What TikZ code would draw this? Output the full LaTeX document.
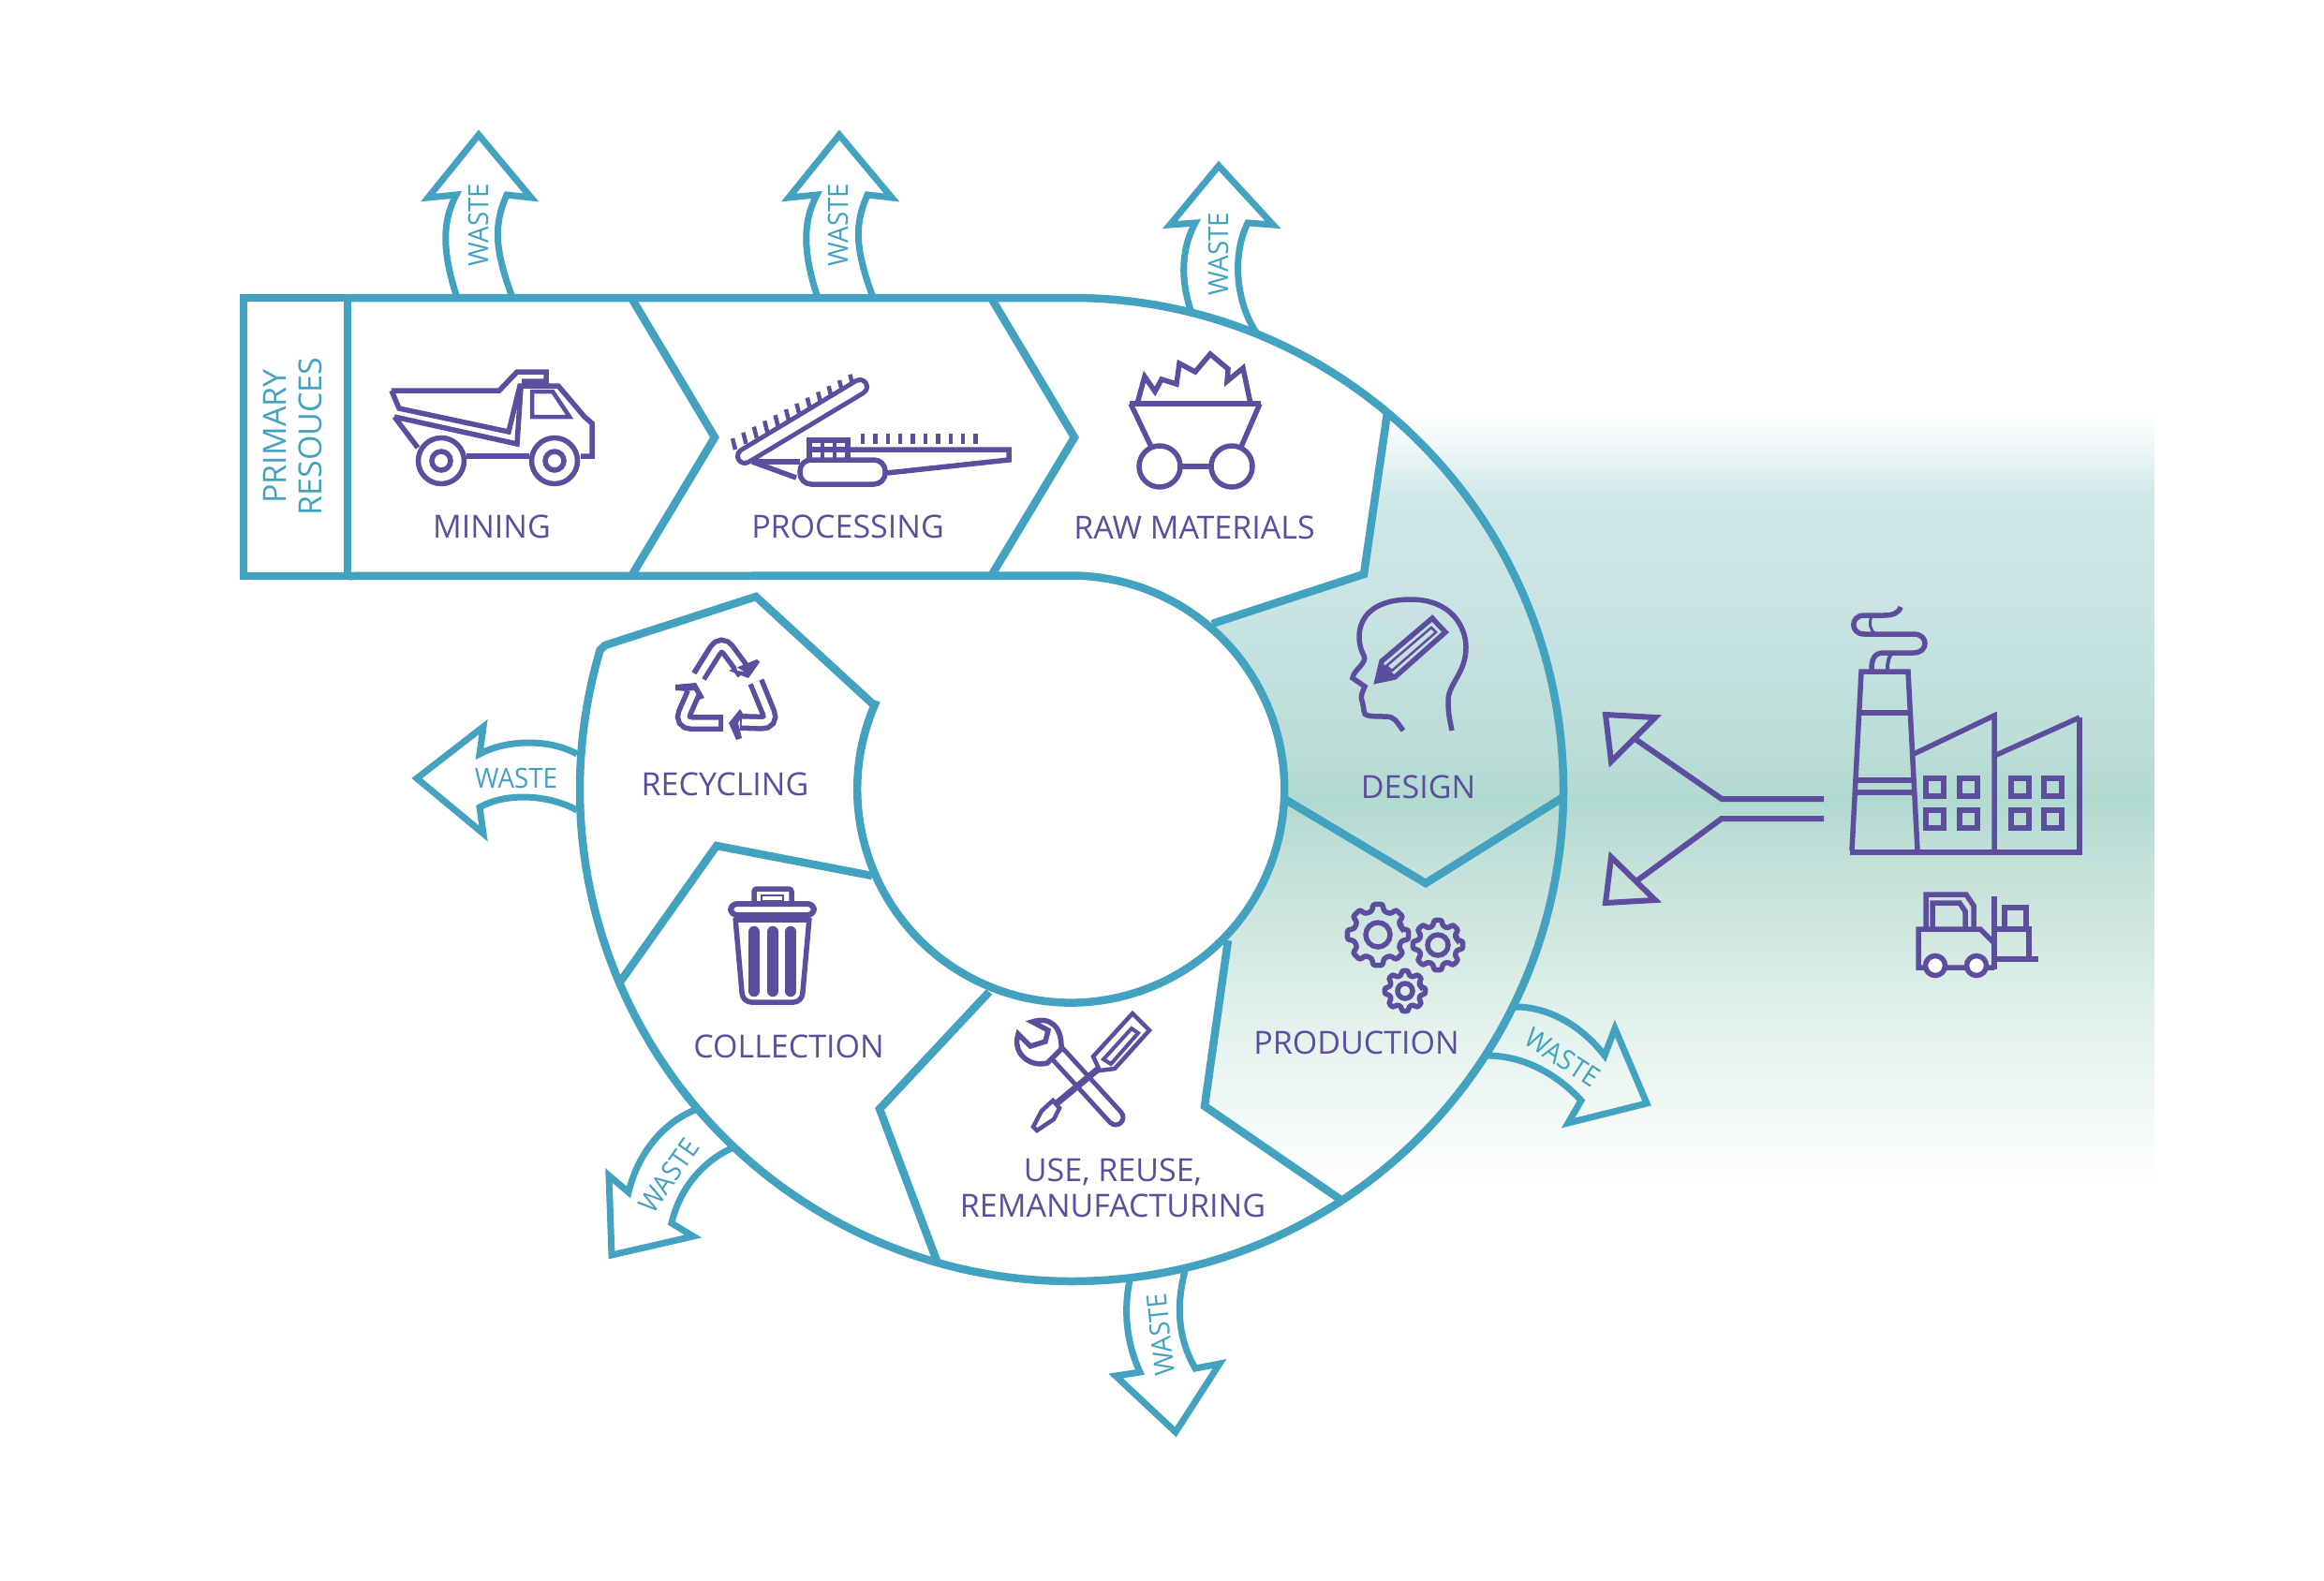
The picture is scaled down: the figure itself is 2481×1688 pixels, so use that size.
\documentclass[tikz,border=0pt]{standalone}
\usepackage{fontspec}
\setmainfont{Open Sans}
\newfontfamily\wastefont[FakeStretch=0.94]{Open Sans}
\definecolor{ringc}{HTML}{43A2BF}
\definecolor{iconc}{HTML}{5C4D9E}
\definecolor{g0}{HTML}{FFFFFF}
\definecolor{g1}{HTML}{F2F9F7}
\definecolor{g2}{HTML}{E0F0EB}
\definecolor{g3}{HTML}{D0E7E0}
\definecolor{g3b}{HTML}{C3E0D9}
\definecolor{g4}{HTML}{B1DAD0}
\definecolor{g5}{HTML}{BCDDD8}
\definecolor{g6}{HTML}{CBE5E5}
\definecolor{g7}{HTML}{CEE7E7}
\definecolor{g8}{HTML}{EAF5F5}
\pgfdeclareverticalshading{bgshadeb}{100bp}{
 color(0bp)=(g0);
 color(25bp)=(g0);
 color(29.5bp)=(g1);
 color(36.5bp)=(g2);
 color(41.5bp)=(g3);
 color(46bp)=(g3b);
 color(50bp)=(g4);
 color(53.5bp)=(g5);
 color(64.5bp)=(g6);
 color(69.5bp)=(g7);
 color(72.5bp)=(g8);
 color(75bp)=(g0);
 color(100bp)=(g0)}
\newcommand{\cogwheel}[5]{%
 \draw[iconl,rounded corners=2.5pt] ({#1+#4*cos(-14)},{#2+#4*sin(-14)})
  \foreach \a in {0,45,...,315} {
   -- ({#1+#4*cos(\a-14)},{#2+#4*sin(\a-14)})
   -- ({#1+#3*cos(\a-9)},{#2+#3*sin(\a-9)})
   -- ({#1+#3*cos(\a+9)},{#2+#3*sin(\a+9)})
   -- ({#1+#4*cos(\a+14)},{#2+#4*sin(\a+14)})
  } -- cycle;
 \draw[iconl] (#1,#2) circle[radius=#5];
}
\tikzset{
 x=1pt,y=-1pt,
 ring/.style={draw=ringc,line width=8.5pt,miter limit=10},
 wastearrow/.style={draw=ringc,line width=7pt,miter limit=10,line join=miter},
 iconl/.style={draw=iconc,line width=5.5pt,line join=miter},
 lab/.style={text=iconc,inner sep=0pt,font=\fontsize{34}{38}\selectfont,align=center},
 wlab/.style={text=ringc,inner sep=0pt,font=\wastefont\fontsize{29.5}{32}\selectfont},
}
\begin{document}
\begin{tikzpicture}
\useasboundingbox (0,0) rectangle (2481,1688);
% gradient backdrop
\shade[shading=bgshadeb] (1144,443) rectangle (2300,1266);
% white covers
\fill[white] (1058,318) -- (1144,318) arc[start angle=-90,end angle=-50,radius=525]
  -- (1456,613) -- (1294,666) arc[start angle=-49.7,end angle=-90,radius=229] -- (1058,614) -- cycle;
\fill[white] (1144,843) circle[radius=229];
\fill[white] (1311,1004) -- (1286,1181) -- (1430,1280) -- (1144,1400) -- (1144,1000) -- cycle;
% main ring
\draw[ring] (260,318) rectangle (371,615);
\draw[ring] (371,318) -- (1144,318) arc[start angle=-90,end angle=196.5,radius=525] -- (646,689) -- (807,637) -- (931,751) -- (934,752) arc[start angle=203.4,end angle=-90,radius=228] -- (371,615);
\draw[ring] (674,318) -- (763,467) -- (674,615);
\draw[ring] (1058,318) -- (1147,467) -- (1058,615);
\draw[ring] (1481,441) -- (1456,613) -- (1294,666);
\draw[ring] (1373,854) -- (1522,943) -- (1669,851);
\draw[ring] (1311,1004) -- (1286,1181) -- (1430,1280);
\draw[ring] (1056,1059) -- (939,1184) -- (1000,1346);
\draw[ring] (663,1047) -- (765,903) -- (931,935);
% waste arrows
\draw[wastearrow] (487,315) .. controls (471,265) and (473,235) .. (487,208) -- (457,211) -- (511,144) -- (567,211) -- (541,208) .. controls (527,240) and (528,265) .. (546,315);
\draw[wastearrow] (872,315) .. controls (856,265) and (858,235) .. (872,208) -- (842,211) -- (896,144) -- (952,211) -- (926,208) .. controls (912,240) and (913,265) .. (931,315);
\draw[wastearrow] (1271,331) .. controls (1261,300) and (1260,268) .. (1276,238) -- (1249,240) -- (1301,177) -- (1359,240) -- (1332,238) .. controls (1316,270) and (1318,320) .. (1341,355);
\draw[wastearrow] (616,805) .. controls (585,788) and (540,790) .. (512,805) -- (516,776) -- (445,831) -- (516,890) -- (512,862) .. controls (540,846) and (585,848) .. (616,865);
\draw[wastearrow] (742,1185) .. controls (705,1200) and (680,1235) .. (671,1273) -- (650,1255) -- (653,1340) -- (740,1320) -- (717,1306) .. controls (725,1270) and (750,1240) .. (781,1226);
\draw[wastearrow] (1206,1367) .. controls (1199,1400) and (1203,1435) .. (1217,1465) -- (1191,1469) -- (1255,1529) -- (1302,1456) -- (1276,1461) .. controls (1258,1430) and (1255,1395) .. (1265,1357);
\draw[wastearrow] (1618,1075) .. controls (1655,1075) and (1690,1097) .. (1713,1127) -- (1724,1098) -- (1758,1178) -- (1674,1199) -- (1688,1175) .. controls (1665,1150) and (1630,1127) .. (1587,1127);
% labels
\node[wlab,rotate=90] (w1) at (511,240) {WASTE};
\node[wlab,rotate=90] (w2) at (895,240) {WASTE};
\node[wlab,rotate=90] (w3) at (1301,271) {WASTE};
\node[wlab] (w4) at (551,831) {WASTE};
\node[wlab,rotate=55] (w5) at (714,1255) {WASTE};
\node[wlab,rotate=96] (w6) at (1239,1425) {WASTE};
\node[wlab,rotate=-33] (w7) at (1668,1129) {WASTE};
\node[lab,text=ringc,rotate=90] (prim) at (312,466) {PRIMARY\\RESOUCES};
\node[lab] (l1) at (525,562) {MINING};
\node[lab] (l2) at (905,562) {PROCESSING};
\node[lab] (l3) at (1275,563) {RAW MATERIALS};
\node[lab] (l4) at (1514,840) {DESIGN};
\node[lab] (l5) at (1448,1113) {PRODUCTION};
\node[lab] (l6) at (1188,1268) {USE, REUSE,\\REMANUFACTURING};
\node[lab] (l7) at (842,1117) {COLLECTION};
\node[lab] (l8) at (774,837) {RECYCLING};
% truck
\draw[iconl] (418,417) -- (533,417) -- (552,397) -- (583,397) -- (583,407) -- (557,407);
\draw[iconl] (418,417) -- (426,436) -- (543,461) -- (555,412) -- (596,412) -- (624,445) -- (632,452) -- (632,487) -- (620,487);
\draw[iconl] (421,445) -- (446,478);
\draw[iconl] (421,445) -- (552,474) -- (556,414);
\draw[iconl] (498,487) -- (565,487);
\draw[iconl,line width=4.5pt] (568,418) -- (590,418) -- (608,445) -- (568,445) -- cycle;
\draw[iconl,fill=white] (471,492) circle[radius=24.5];
\draw[iconl] (471,492) circle[radius=10];
\draw[iconl,fill=white] (592,492) circle[radius=24.5];
\draw[iconl] (592,492) circle[radius=10];
% processing machine
\foreach \t in {0,...,11} {
  \draw[iconl,line width=4.5pt] ({785+\t*11.4},{480-\t*6.2}) -- ({782+\t*11.4},{468-\t*6.2});
}
\draw[draw=iconc,line width=20pt,line cap=round] (795,487) -- (918,413);
\draw[draw=white,line width=10pt,line cap=round] (795,487) -- (918,413);
\foreach \t in {0,...,9} {
  \draw[iconl,line width=4.5pt] ({921+\t*13.4},463) -- ({921+\t*13.4},474);
}
\draw[iconl] (864,489) -- (864,470) -- (905,470) -- (905,489);
\draw[iconl,line width=4pt] (878,470) -- (878,489) (891,470) -- (891,489);
\draw[iconl] (905,480) -- (1077,480) -- (1077,491) -- (947,505);
\draw[iconl] (905,480) -- (864,480);
\draw[iconl,rounded corners=12pt] (854,491) rectangle (945,517);
\draw[iconl] (803,493) -- (854,493);
\draw[iconl] (803,493) -- (850,510);
% raw materials cart
\draw[iconl] (1206,431) -- (1346,431);
\draw[iconl] (1207,431) -- (1229,477);
\draw[iconl] (1345,431) -- (1325,477);
\draw[iconl] (1214,431) -- (1222,402) -- (1233,418) -- (1240,405) -- (1256,410) -- (1259,388) -- (1276,397) -- (1292,378) -- (1311,394) -- (1310,407) -- (1327,393) -- (1335,431);
\draw[iconl] (1238,498) circle[radius=22];
\draw[iconl] (1315,498) circle[radius=22];
\draw[iconl] (1260,498) -- (1293,498);
% head and pencil
\draw[iconl,line cap=butt] (1498,780) .. controls (1490,770) and (1490,765) .. (1478,765) .. controls (1465,765) and (1455,765) .. (1456,759) .. controls (1455,745) and (1450,748) .. (1457,733) -- (1444,724) .. controls (1445,715) and (1460,708) .. (1456,700) .. controls (1445,680) and (1448,640) .. (1506,640) .. controls (1550,640) and (1565,670) .. (1565,691) .. controls (1565,720) and (1545,730) .. (1546,750) .. controls (1546,762) and (1548,770) .. (1550,780);
\draw[iconl] (1475,706) -- (1529,660) -- (1543,675) -- (1489,723) -- (1470,727) -- cycle;
\draw[iconl,line width=2.5pt] (1480,711) -- (1528,670) -- (1533,675) -- (1486,716) -- cycle;
\fill[iconc] (1468,727) -- (1476,708) -- (1489,721) -- cycle;
% factory
\draw[iconl] (1975,910) -- (2220,910) -- (2220,766);
\draw[iconl] (1977,908) -- (1987,717) -- (2037,717) -- (2047,908);
\draw[iconl] (1985,761) -- (2039,761);
\draw[iconl] (1982,833) -- (2043,833);
\draw[iconl] (1981,846) -- (2044,846);
\draw[iconl] (2043,805) -- (2129,764) -- (2129,908);
\draw[iconl] (2129,807) -- (2220,766);
\foreach \wx in {2056,2092,2147,2182} {\foreach \wy in {831,865} {
  \draw[iconl] (\wx,\wy) rectangle ++(19,19);
}}
\draw[iconl] (1998,715) .. controls (1998,705) and (2000,697) .. (2011,697) -- (2043,697) .. controls (2059,697) and (2059,677) .. (2043,677) -- (1990,677) .. controls (1975,677) and (1975,657) .. (1990,657) -- (2011,657) .. controls (2020,657) and (2027,655) .. (2029,648);
\draw[iconl,line width=4pt] (2015,715) .. controls (2015,707) and (2016,702) .. (2020,697);
\draw[iconl,line width=3pt] (1998,658) .. controls (1995,665) and (1996,672) .. (2002,677);
% forklift
\draw[iconl] (2129,1033) -- (2048,1033) -- (2048,992) -- (2114,992) -- (2128,1006);
\draw[iconl] (2056,990) -- (2056,955) -- (2099,955) -- (2107,967) -- (2107,990);
\draw[iconl] (2063,990) -- (2063,964) -- (2092,964) -- (2098,973) -- (2098,990);
\draw[iconl,line width=6pt] (2129,957) -- (2129,1035);
\draw[iconl] (2132,992) -- (2166,992) -- (2166,1024);
\draw[iconl] (2129,1024) -- (2176,1024);
\draw[iconl] (2140,990) -- (2140,969) -- (2163,969) -- (2163,990);
\draw[iconl,fill=white] (2066,1031) circle[radius=10.5];
\draw[iconl,fill=white] (2110,1031) circle[radius=10.5];
% splitting arrows
\draw[iconl,line width=6pt] (1947,853) -- (1838,853) -- (1747,790);
\draw[iconl,line width=6pt] (1947,874) -- (1838,874) -- (1748,940);
\draw[iconl,line width=6pt] (1714,763) -- (1767,766) -- (1720,813) -- cycle;
\draw[iconl,line width=6pt] (1714,964) -- (1767,961) -- (1720,915) -- cycle;
% gears
\cogwheel{1471}{998}{33}{26}{13}
\cogwheel{1535}{1009}{27}{21}{11}
\cogwheel{1500}{1058}{22}{17}{8}
% tools
\draw[draw=iconc,line width=21pt,line cap=round] (1128,1124) -- (1191,1193);
\draw[draw=white,line width=11pt,line cap=round] (1128,1124) -- (1191,1193);
\draw[iconl,fill=white] (1087,1104) -- (1100,1117) -- (1116,1112) -- (1119,1100) -- (1102,1091) .. controls (1120,1085) and (1134,1095) .. (1133,1120) -- (1118,1135) .. controls (1100,1140) and (1080,1125) .. cycle;
\draw[iconl,line width=4.5pt,fill=white] (1209,1082) -- (1227,1100) -- (1190,1141) -- (1174,1143) -- (1167,1128) -- cycle;
\draw[iconl,line width=4pt] (1178,1131) -- (1208,1098) -- (1215,1103) -- (1186,1136) -- cycle;
\draw[draw=iconc,line width=7pt] (1174,1140) -- (1122,1183);
\draw[iconl,fill=white,line width=4.5pt] (1124,1175) -- (1112,1186) -- (1103,1203) -- (1107,1207) -- (1125,1195) -- (1131,1183) -- cycle;
% trash can
\draw[iconl,rounded corners=3pt] (805,962) -- (805,949) -- (845,949) -- (845,962);
\draw[iconl,line width=2pt] (813,962) -- (836,962) -- (836,956) -- (813,956) -- cycle;
\draw[iconl,line width=6pt,rounded corners=7pt] (780,965) rectangle (869,977);
\draw[iconl,rounded corners=9pt] (785,980) -- (793,1070) -- (856,1070) -- (864,980);
\draw[iconl] (784,982) -- (865,982);
\foreach \bx in {805,825,844} {\draw[draw=iconc,line width=12.5pt,line cap=round] (\bx,995) -- (\bx,1058);}
% recycling
\draw[draw=iconc,line width=18pt,rounded corners=12pt] (746,722) -- (770,684) -- (795,718);
\draw[draw=white,line width=7pt,rounded corners=12pt] (744,726) -- (770,684) -- (795,718);
\fill[iconc] (778,716) -- (808,704) -- (811,707) -- (799,724) -- cycle;
\fill[white] (786,712) -- (794,717) -- (787,716) -- cycle;
\draw[draw=iconc,line width=18pt,rounded corners=12pt] (807,728) -- (825,772) -- (790,771);
\draw[draw=white,line width=7pt,rounded corners=12pt] (807,728) -- (825,772) -- (792,771);
\fill[iconc] (790,757) -- (793,762) -- (788,772) -- (792,788) -- (786,790) -- (778,772) -- cycle;
\draw[draw=iconc,line width=18pt,rounded corners=12pt] (772,772) -- (726,772) -- (740,740);
\draw[draw=white,line width=7pt,rounded corners=12pt] (767,772) -- (726,772) -- (740,740);
\fill[iconc] (721,731) -- (743,729) -- (752,745) -- (747,747) -- (741,737) -- (733,738) -- (721,737) -- cycle;
\end{tikzpicture}
\end{document}
